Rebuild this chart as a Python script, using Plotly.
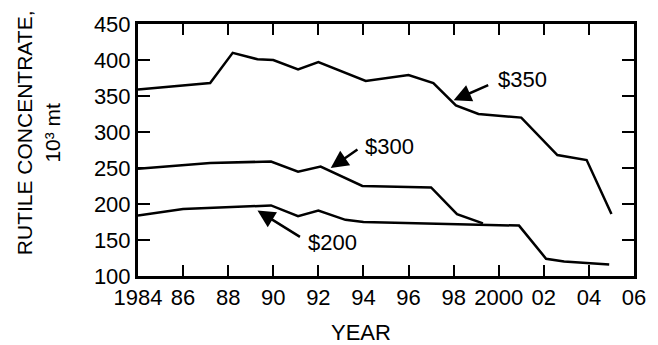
import plotly.graph_objects as go

# Rutile concentrate supply curves at three price levels
years_350 = [1984, 1987.2, 1988.2, 1989.3, 1990, 1991.1, 1992, 1994.1, 1996, 1997.1, 1998.1, 1999.1, 2001, 2002.6, 2003.9, 2005]
vals_350 = [359, 368, 410, 401, 400, 387, 397, 371, 379, 368, 337, 325, 320, 268, 261, 186]

years_300 = [1984, 1987.2, 1989.9, 1991.1, 1992.1, 1993.95, 1997.0, 1998.15, 1999.3]
vals_300 = [249, 257, 259, 245, 252, 225, 223, 186, 173]

years_200 = [1984, 1986, 1989.9, 1991.1, 1992, 1993.2, 1994, 1999.1, 2000.9, 2002.1, 2002.9, 2004.9]
vals_200 = [184, 193, 198, 183, 191, 178, 175, 172, 170, 124, 120, 116]

x_ticks = [1984, 1986, 1988, 1990, 1992, 1994, 1996, 1998, 2000, 2002, 2004, 2006]
x_tick_text = ["1984", "86", "88", "90", "92", "94", "96", "98", "2000", "02", "04", "06"]
y_ticks = [100, 150, 200, 250, 300, 350, 400, 450]

# price labels: (text, label x, label y, arrow tail x, tail y, arrow tip x, tip y)
price_labels = [
    ("$350", 1999.9, 373, 1999.6, 366, 1998.0, 344),
    ("$300", 1994.0, 280, 1993.8, 277, 1992.55, 250),
    ("$200", 1991.45, 147, 1991.25, 153, 1989.3, 191),
]

FONT = "Liberation Sans, Arial, Helvetica, sans-serif"

fig = go.Figure()
for xs, ys in [(years_350, vals_350), (years_300, vals_300), (years_200, vals_200)]:
    fig.add_trace(go.Scatter(x=xs, y=ys, mode="lines",
                             line=dict(color="black", width=2.5),
                             showlegend=False, hoverinfo="skip"))

annotations = []
for text, lx, ly, tx, ty, hx, hy in price_labels:
    annotations.append(dict(x=hx, y=hy, ax=tx, ay=ty, xref="x", yref="y",
                            axref="x", ayref="y", text="", showarrow=True,
                            arrowhead=2, arrowsize=1.4, arrowwidth=2.5,
                            arrowcolor="black"))
    annotations.append(dict(x=lx, y=ly, xref="x", yref="y", text=text,
                            showarrow=False, xanchor="left", yanchor="middle",
                            font=dict(size=22, color="black", family=FONT)))

annotations.append(dict(x=-0.2, y=0.57, xref="paper", yref="paper",
                        text="RUTILE CONCENTRATE,<br>10³ mt", textangle=-90,
                        showarrow=False, xanchor="center", yanchor="middle",
                        font=dict(size=21, color="black", family=FONT)))
annotations.append(dict(x=0.45, y=0.0, xref="paper", yref="paper", yshift=-71,
                        text="YEAR", showarrow=False, xanchor="center",
                        yanchor="bottom",
                        font=dict(size=22, color="black", family=FONT)))

fig.update_layout(
    width=658, height=345,
    margin=dict(l=138, r=22, t=21, b=69),
    paper_bgcolor="white", plot_bgcolor="white",
    font=dict(family=FONT, size=22, color="black"),
    annotations=annotations,
    xaxis=dict(range=[1984, 2006], tickvals=x_ticks, ticktext=x_tick_text,
               ticks="inside", ticklen=11, tickwidth=2, tickcolor="black",
               showline=True, linewidth=3, linecolor="black", mirror="ticks",
               showgrid=False, zeroline=False, tickfont=dict(size=22)),
    yaxis=dict(range=[100, 450], tickvals=y_ticks,
               ticks="inside", ticklen=12, tickwidth=2, tickcolor="black",
               showline=True, linewidth=3, linecolor="black", mirror="ticks",
               showgrid=False, zeroline=False, tickfont=dict(size=22)),
)

fig.write_html("out.html")
